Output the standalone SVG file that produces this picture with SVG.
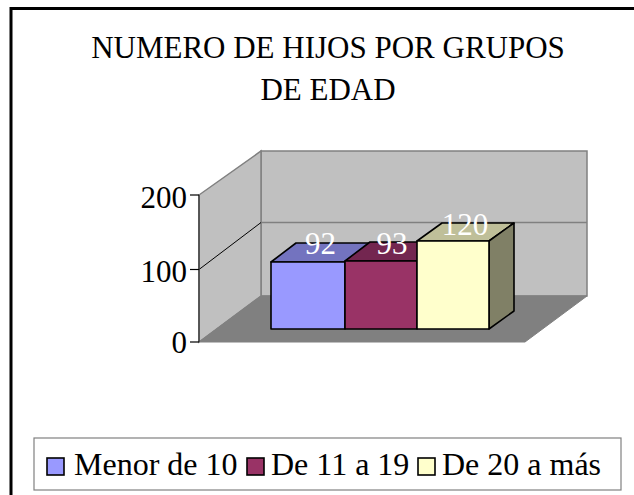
<svg xmlns="http://www.w3.org/2000/svg" width="634" height="495" viewBox="0 0 634 495">
<style>
  .t { font-family: "Liberation Serif", "Times New Roman", serif; font-size: 31px; }
  .title { fill: #000; text-anchor: middle; }
  .axis { fill: #000; text-anchor: end; }
  .val { fill: #fff; text-anchor: middle; }
  .leg { fill: #000; font-size: 32px; }
  .wall { fill: #C0C0C0; stroke: #808080; stroke-width: 1.5; }
  .floor { fill: #808080; stroke: #808080; stroke-width: 1; }
  .bar { stroke: #000; stroke-width: 1.6; stroke-linejoin: round; }
  .sq { stroke: #000; stroke-width: 1.6; }
</style>
<rect x="0" y="0" width="634" height="495" fill="#fff"/>
<rect id="frame" x="11" y="8.5" width="700" height="600" fill="#fff" stroke="#000" stroke-width="3"/>
<g id="title">
  <text class="t title" x="328" y="58">NUMERO DE HIJOS POR GRUPOS</text>
  <text class="t title" x="328" y="100">DE EDAD</text>
</g>
<g id="plot">
  <polygon class="wall" points="261,151 587,151 587,296 261,296"/>
  <polygon class="wall" points="199,195 261,151 261,296 199,342"/>
  <polygon class="floor" points="199,342 261,296 587,296 525,342"/>
  <line x1="261" y1="222.5" x2="587" y2="222.5" stroke="#808080" stroke-width="1.5"/>
  <line x1="199" y1="269.5" x2="261" y2="222.5" stroke="#000" stroke-width="1"/>
  <line x1="199" y1="195" x2="199" y2="342" stroke="#404040" stroke-width="1.5"/>
  <line x1="190" y1="195" x2="199" y2="195" stroke="#000" stroke-width="1.2"/>
  <line x1="190" y1="269.5" x2="199" y2="269.5" stroke="#000" stroke-width="1.2"/>
  <line x1="190" y1="342" x2="199" y2="342" stroke="#000" stroke-width="1.2"/>
  <text class="t axis" x="187" y="208">200</text>
  <text class="t axis" x="187" y="282">100</text>
  <text class="t axis" x="187" y="353">0</text>
</g>
<g id="bar1">
  <polygon class="bar" fill="#7373BF" points="271,262 296,243 370,243 345,262"/>
  <polygon class="bar" fill="#9999FF" points="271,262 345,262 345,329 271,329"/>
  <text class="t val" x="320.5" y="254">92</text>
</g>
<g id="bar2">
  <polygon class="bar" fill="#732650" points="345,261 370,242 442,242 417,261"/>
  <polygon class="bar" fill="#993366" points="345,261 417,261 417,329 345,329"/>
  <text class="t val" x="392" y="254">93</text>
</g>
<g id="bar3">
  <polygon class="bar" fill="#BFBF99" points="417,241 442,223 514,223 489,241"/>
  <polygon class="bar" fill="#808066" points="489,241 514,223 514,311 489,329"/>
  <polygon class="bar" fill="#FFFFCC" points="417,241 489,241 489,329 417,329"/>
  <text class="t val" x="465" y="235">120</text>
</g>
<g id="legend">
  <rect x="34" y="438" width="587" height="52" fill="#fff" stroke="#808080" stroke-width="1.2"/>
  <rect class="sq" x="47" y="458" width="17" height="17" fill="#9999FF"/>
  <text class="t leg" x="74" y="475">Menor de 10</text>
  <rect class="sq" x="247" y="458" width="17" height="17" fill="#993366"/>
  <text class="t leg" x="271" y="475">De 11 a 19</text>
  <rect class="sq" x="418" y="458" width="17" height="17" fill="#FFFFCC"/>
  <text class="t leg" x="442" y="475">De 20 a más</text>
</g>
</svg>
